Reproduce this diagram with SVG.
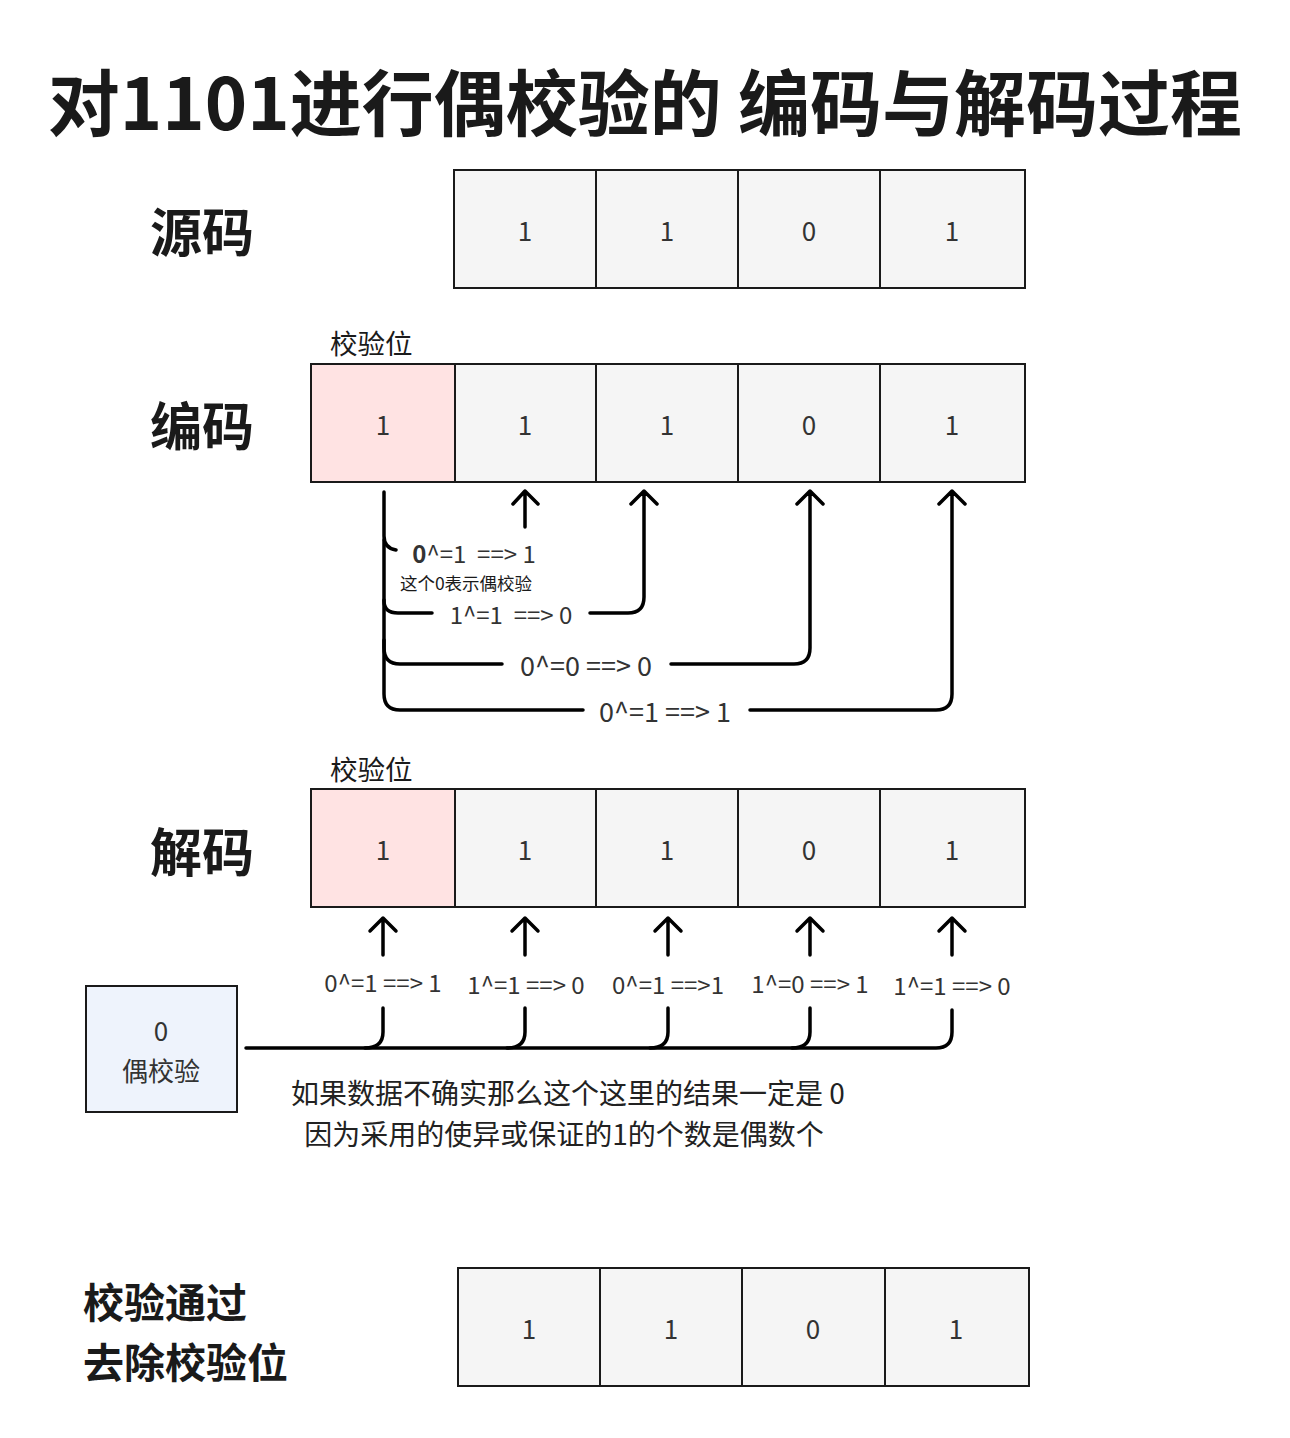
<svg xmlns="http://www.w3.org/2000/svg" width="1290" height="1438" viewBox="0 0 1290 1438">
<style>
text{font-family:"Noto Sans CJK SC","Noto Sans",sans-serif;fill:#1a1a1a}
.cell{fill:#f5f5f5;stroke:#1a1a1a;stroke-width:2}
.pink{fill:#ffe3e3;stroke:#1a1a1a;stroke-width:2}
.num{font-size:26px;text-anchor:middle;fill:#333}
.big{font-size:52px;font-weight:700}
.lab{font-size:27.5px}
.conn{fill:none;stroke:#000;stroke-width:3.5;stroke-linecap:round;stroke-linejoin:round}
.el{font-size:24px;text-anchor:middle;fill:#333;white-space:pre}
.el2{font-size:27px;text-anchor:middle;fill:#333}
.note{font-size:28px;text-anchor:middle;fill:#222}
</style>
<rect width="1290" height="1438" fill="#fff"/>
<text x="645" y="130" font-size="72" font-weight="700" text-anchor="middle">对1101进行偶校验的 编码与解码过程</text>

<g id="src">
<text class="big" x="150" y="252">源码</text>
<rect class="cell" x="454" y="170" width="142" height="118"/><text class="num" x="525" y="241">1</text>
<rect class="cell" x="596" y="170" width="142" height="118"/><text class="num" x="667" y="241">1</text>
<rect class="cell" x="738" y="170" width="142" height="118"/><text class="num" x="809" y="241">0</text>
<rect class="cell" x="880" y="170" width="145" height="118"/><text class="num" x="952" y="241">1</text>
</g>

<g id="enc">
<text class="big" x="150" y="446">编码</text>
<text class="lab" x="330" y="354">校验位</text>
<rect class="pink" x="311" y="364" width="144" height="118"/><text class="num" x="383" y="435">1</text>
<rect class="cell" x="455" y="364" width="141" height="118"/><text class="num" x="525" y="435">1</text>
<rect class="cell" x="596" y="364" width="142" height="118"/><text class="num" x="667" y="435">1</text>
<rect class="cell" x="738" y="364" width="142" height="118"/><text class="num" x="809" y="435">0</text>
<rect class="cell" x="880" y="364" width="145" height="118"/><text class="num" x="952" y="435">1</text>
</g>

<g id="dec">
<text class="big" x="150" y="872">解码</text>
<text class="lab" x="330" y="780">校验位</text>
<rect class="pink" x="311" y="789" width="144" height="118"/><text class="num" x="383" y="860">1</text>
<rect class="cell" x="455" y="789" width="141" height="118"/><text class="num" x="525" y="860">1</text>
<rect class="cell" x="596" y="789" width="142" height="118"/><text class="num" x="667" y="860">1</text>
<rect class="cell" x="738" y="789" width="142" height="118"/><text class="num" x="809" y="860">0</text>
<rect class="cell" x="880" y="789" width="145" height="118"/><text class="num" x="952" y="860">1</text>
</g>

<g id="parity">
<rect x="86" y="986" width="151" height="126" fill="#eef3fc" stroke="#1a1a1a" stroke-width="2"/>
<text class="num" x="161" y="1041">0</text>
<text class="num" x="161" y="1081">偶校验</text>
</g>

<g id="out">
<text x="83" y="1318" font-size="41" font-weight="700">校验通过</text>
<text x="83" y="1378" font-size="41" font-weight="700">去除校验位</text>
<rect class="cell" x="458" y="1268" width="142" height="118"/><text class="num" x="529" y="1339">1</text>
<rect class="cell" x="600" y="1268" width="142" height="118"/><text class="num" x="671" y="1339">1</text>
<rect class="cell" x="742" y="1268" width="143" height="118"/><text class="num" x="813" y="1339">0</text>
<rect class="cell" x="885" y="1268" width="144" height="118"/><text class="num" x="956" y="1339">1</text>
</g>

<g id="connectors">
<path class="conn" d="M384,492 V536 Q384,548 396,550"/>
<path class="conn" d="M525,527 V491 M513,504 L525,491 L538,504"/>
<path class="conn" d="M384,540 V601 Q384,613 398,613 H432 M590,613 H628 Q644,613 644,597 V491 M631,504 L644,491 L657,504"/>
<path class="conn" d="M384,600 V648 Q384,664 400,664 H502 M671,664 H794 Q810,664 810,648 V491 M797,504 L810,491 L823,504"/>
<path class="conn" d="M384,640 V694 Q384,710 400,710 H583 M750,710 H936 Q952,710 952,694 V491 M939,504 L952,491 L965,504"/>
<path class="conn" d="M383,955 V918 M370,931 L383,918 L396,931"/>
<path class="conn" d="M525,955 V918 M512,931 L525,918 L538,931"/>
<path class="conn" d="M668,955 V918 M655,931 L668,918 L681,931"/>
<path class="conn" d="M810,955 V918 M797,931 L810,918 L823,931"/>
<path class="conn" d="M952,955 V918 M939,931 L952,918 L965,931"/>
<path class="conn" d="M246,1048 H936 Q952,1048 952,1032 V1010"/>
<path class="conn" d="M383,1008 V1032 Q383,1048 365,1048"/>
<path class="conn" d="M525,1008 V1032 Q525,1048 507,1048"/>
<path class="conn" d="M668,1008 V1032 Q668,1048 650,1048"/>
<path class="conn" d="M810,1008 V1032 Q810,1048 792,1048"/>
</g>

<g id="labels">
<text class="el" x="474" y="563" xml:space="preserve"><tspan font-weight="700">0</tspan>^=1  ==&gt; 1</text>
<text x="466" y="590" font-size="17.5" text-anchor="middle" fill="#333">这个0表示偶校验</text>
<text class="el" x="511" y="624" xml:space="preserve">1^=1  ==&gt; 0</text>
<text class="el2" x="586" y="676">0^=0 ==&gt; 0</text>
<text class="el2" x="665" y="722">0^=1 ==&gt; 1</text>
<text class="el" x="383" y="992">0^=1 ==&gt; 1</text>
<text class="el" x="526" y="994">1^=1 ==&gt; 0</text>
<text class="el" x="668" y="994">0^=1 ==&gt;1</text>
<text class="el" x="810" y="993">1^=0 ==&gt; 1</text>
<text class="el" x="952" y="995">1^=1 ==&gt; 0</text>
<text class="note" x="568" y="1104">如果数据不确实那么这个这里的结果一定是 0</text>
<text class="note" x="564" y="1145">因为采用的使异或保证的1的个数是偶数个</text>
</g>
</svg>
